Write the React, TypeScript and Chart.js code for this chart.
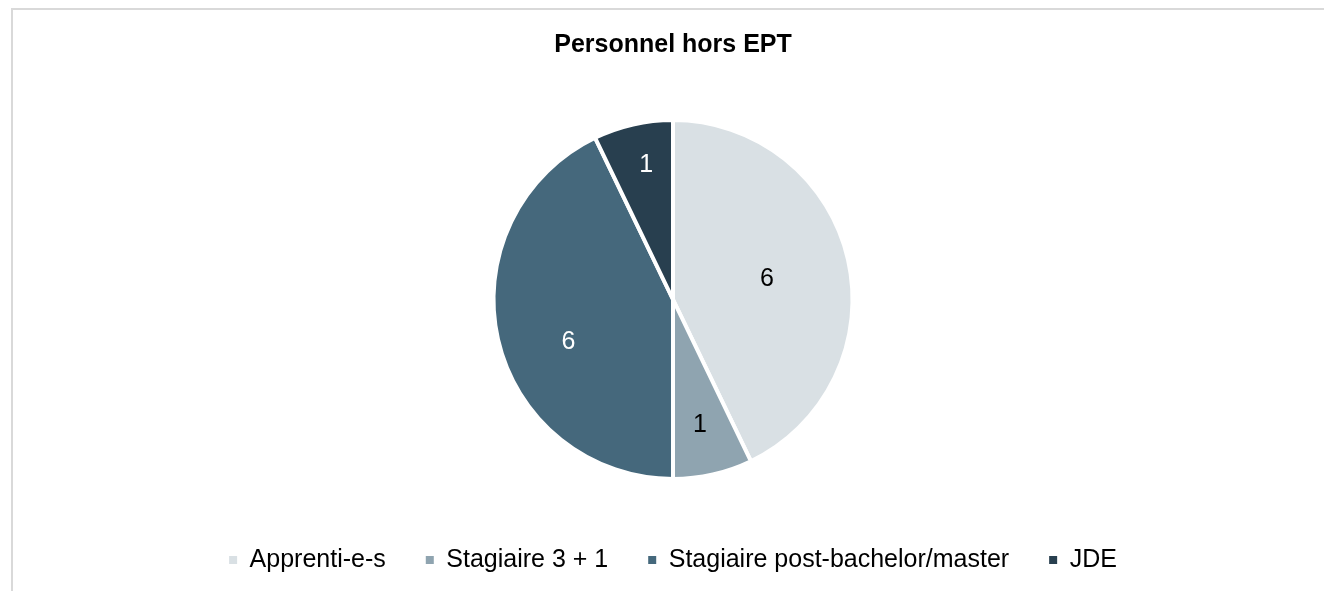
import React, { useEffect, useRef } from "react";
import { Chart, registerables } from "chart.js";

Chart.register(...registerables);

const TITLE = "Personnel hors EPT";
const categories = ["Apprenti-e-s", "Stagiaire 3 + 1", "Stagiaire post-bachelor/master", "JDE"];
const values = [6, 1, 6, 1];
const sliceColors = ["#D9E0E4", "#8FA4B0", "#45687C", "#283F4F"];
const labelColors = ["#000000", "#000000", "#FFFFFF", "#FFFFFF"];
const labelRadiusFrac = [0.537, 0.71, 0.626, 0.774];
const labelAngleShiftDeg = [0, 0.7, -8.8, 1.7];

const FONT = "'Liberation Sans', Arial, sans-serif";

const valueLabels = {
  id: "valueLabels",
  afterDatasetsDraw(chart: any) {
    const ctx = chart.ctx;
    const meta = chart.getDatasetMeta(0);
    ctx.save();
    ctx.font = `25px ${FONT}`;
    ctx.textAlign = "center";
    ctx.textBaseline = "middle";
    meta.data.forEach((arc: any, i: number) => {
      const p = arc.getProps(["x", "y", "startAngle", "endAngle", "outerRadius"], true);
      const mid = (p.startAngle + p.endAngle) / 2 + (labelAngleShiftDeg[i] * Math.PI) / 180;
      const r = p.outerRadius * labelRadiusFrac[i];
      ctx.fillStyle = labelColors[i];
      ctx.fillText(String(values[i]), p.x + Math.cos(mid) * r, p.y + Math.sin(mid) * r + 1.5);
    });
    ctx.restore();
  },
};

export default function App() {
  const ref = useRef<HTMLCanvasElement>(null);
  useEffect(() => {
    if (!ref.current) return;
    const chart = new Chart(ref.current, {
      type: "pie",
      data: {
        labels: categories,
        datasets: [
          {
            data: values,
            backgroundColor: sliceColors,
            borderColor: "#FFFFFF",
            borderWidth: 4,
            radius: 179.5,
          } as any,
        ],
      },
      options: {
        responsive: false,
        animation: false,
        layout: { padding: { left: 9, right: 0, top: 0, bottom: 8.5 } },
        plugins: {
          title: {
            display: true,
            text: TITLE,
            color: "#000000",
            font: { family: FONT, size: 25, weight: "bold" },
            padding: { top: 20, bottom: 31.5 },
          },
          legend: {
            position: "bottom",
            labels: {
              color: "#000000",
              font: { family: FONT, size: 25 },
              boxWidth: 8,
              boxHeight: 8,
              padding: 40,
              generateLabels: (c: any) => {
                const items = Chart.overrides.pie.plugins.legend.labels.generateLabels(c);
                return items.map((it: any) => ({ ...it, lineWidth: 0, strokeStyle: "rgba(0,0,0,0)" }));
              },
            },
          },
          tooltip: { enabled: false },
        },
      },
      plugins: [valueLabels],
    });
    return () => chart.destroy();
  }, []);

  return (
    <div
      style={{
        position: "absolute",
        left: 11,
        top: 8,
        width: 1313,
        height: 583,
        boxSizing: "border-box",
        borderTop: "2px solid #D9D9D9",
        borderLeft: "2px solid #D9D9D9",
        background: "#FFFFFF",
      }}
    >
      <canvas ref={ref} width={1311} height={581} style={{ display: "block" }} />
    </div>
  );
}
